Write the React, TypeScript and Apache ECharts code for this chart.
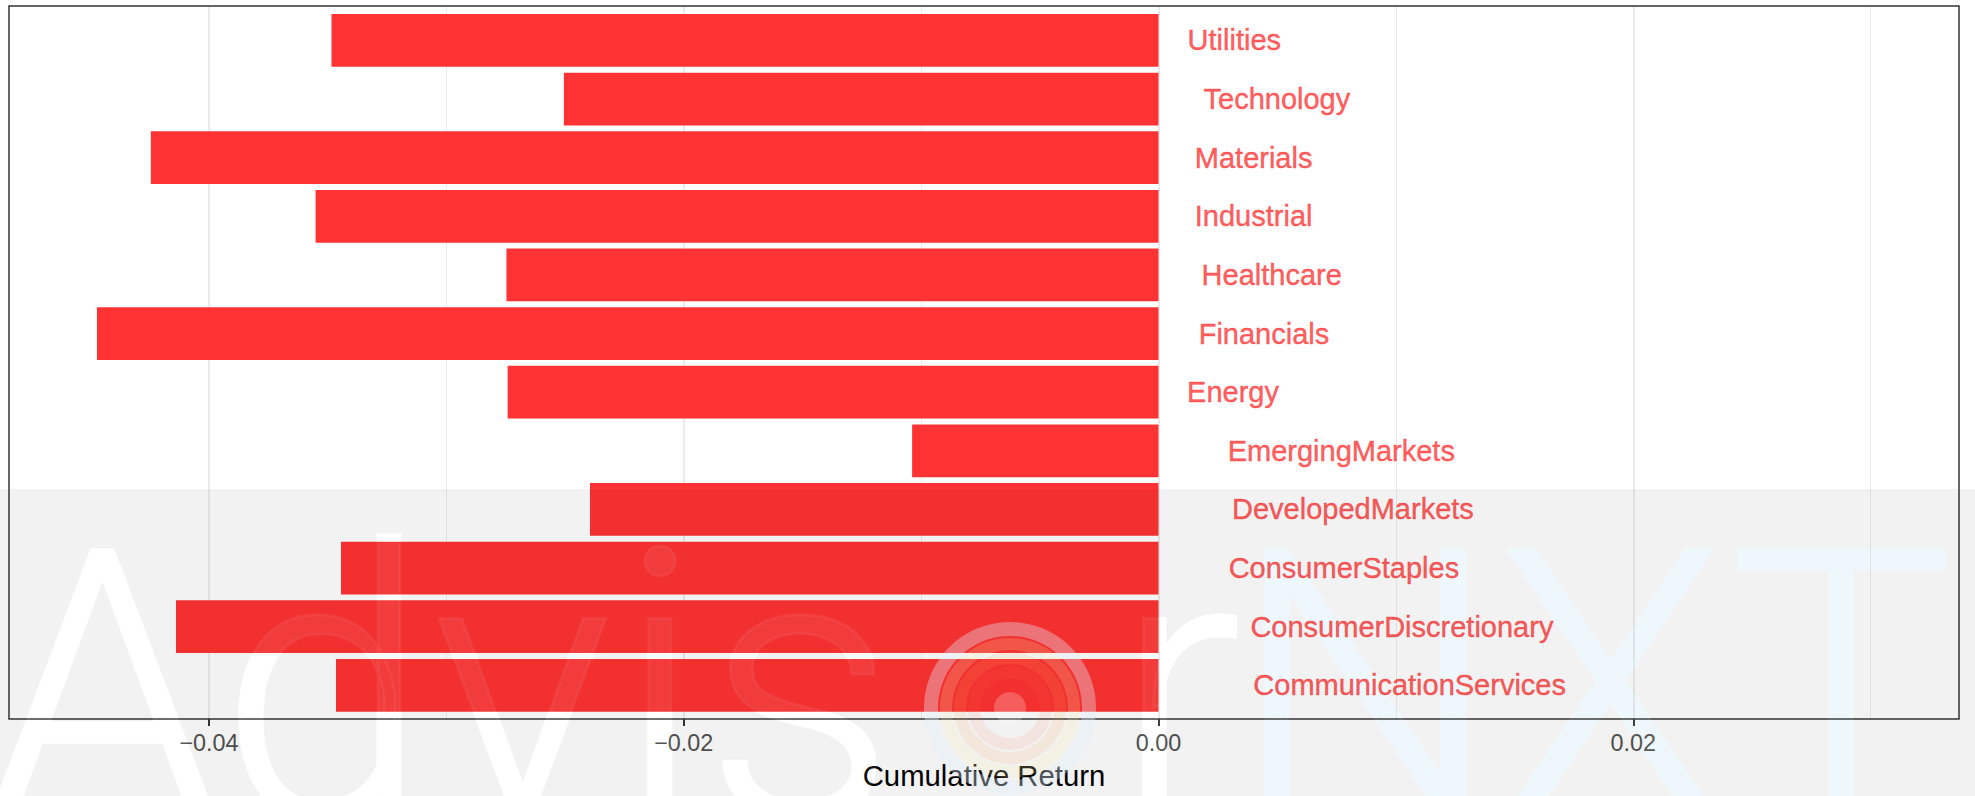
import React, { useEffect, useRef } from 'react';
import * as echarts from 'echarts';

// ---- data (ECharts draws the first category at the bottom)
const categories = [
  'CommunicationServices',
  'ConsumerDiscretionary',
  'ConsumerStaples',
  'DevelopedMarkets',
  'EmergingMarkets',
  'Energy',
  'Financials',
  'Healthcare',
  'Industrial',
  'Materials',
  'Technology',
  'Utilities',
];
const cumulativeReturn = [
  -0.03465, -0.04139, -0.03444, -0.02395, -0.01038, -0.02742,
  -0.04472, -0.02747, -0.03551, -0.04245, -0.02505, -0.03484,
];
const majorTicks = [-0.04, -0.02, 0, 0.02];
const minorTicks = [-0.03, -0.01, 0.01, 0.03];
const axisTitle = 'Cumulative Return';
const watermarkLetters = ['A', 'd', 'v', 'i', 's', 'r', 'N', 'X', 'T'];

// ---- layout / style
const W = 1975;
const H = 796;
const X_MIN = -0.048425;
const X_MAX = 0.033722;
const BAND_Y = 489;
const FONT = '"Liberation Sans", Arial, Helvetica, sans-serif';
const BRIGHT = '#FF3333';
const DARK = '#F23030';
const WM_SIZE = 376;
const WM_MID = 688.6;
const WM_X = [102.5, 324.5, 522.5, 659.7, 800.5, 1178, 1365, 1610.5, 1841];
const LOGO = { cx: 1010, cy: 708 };

const fmt = (v: number) => (v < 0 ? '\u2212' : '') + Math.abs(v).toFixed(2);

export default function App() {
  const ref = useRef<HTMLDivElement>(null);

  useEffect(() => {
    document.body.style.margin = '0';
    const chart = echarts.init(ref.current!, null, { renderer: 'svg' });

    const ctx = document.createElement('canvas').getContext('2d')!;
    ctx.font = '29px "Liberation Sans"';

    const barColor = new echarts.graphic.LinearGradient(
      0, 0, 0, H,
      [
        { offset: 0, color: BRIGHT },
        { offset: BAND_Y / H, color: BRIGHT },
        { offset: BAND_Y / H, color: DARK },
        { offset: 1, color: DARK },
      ],
      true
    );

    const labelData = categories.map((c, i) => {
      const w = ctx.measureText(c).width;
      const col = i < 4 ? DARK : BRIGHT;
      return {
        name: c,
        value: [0, c],
        label: { distance: 0.5 + 0.3 * w, color: col, textBorderColor: col },
      };
    });

    const letterFill = (l: string) => ('NXT'.includes(l) ? '#EEF8FC' : '#FFFFFF');
    const letters = (fillFn: (l: string) => string, z: number) =>
      watermarkLetters.map((l, i) => ({
        type: 'text',
        x: WM_X[i],
        y: WM_MID,
        z,
        z2: 1,
        silent: true,
        style: {
          text: l,
          fontFamily: 'Roboto',
          fontWeight: 300,
          fontSize: WM_SIZE,
          fill: fillFn(l),
          stroke: fillFn(l),
          lineWidth: 3,
          align: 'center',
          verticalAlign: 'middle',
        },
      }));

    const logo = [
      { type: 'ring', shape: { cx: LOGO.cx, cy: LOGO.cy, r: 86, r0: 72 }, style: { fill: 'rgba(225,242,252,0.35)' } },
      { type: 'ring', shape: { cx: LOGO.cx, cy: LOGO.cy, r: 70, r0: 58 }, style: { fill: 'rgba(245,242,170,0.2)' } },
      { type: 'ring', shape: { cx: LOGO.cx, cy: LOGO.cy, r: 56, r0: 44 }, style: { fill: 'rgba(255,170,90,0.14)' } },
      { type: 'ring', shape: { cx: LOGO.cx, cy: LOGO.cy, r: 42, r0: 30 }, style: { fill: 'rgba(255,110,60,0.1)' } },
      { type: 'circle', shape: { cx: LOGO.cx, cy: LOGO.cy, r: 16 }, style: { fill: 'rgba(255,255,255,0.22)' } },
    ].map((e) => ({ ...e, z: 4, silent: true }));

    const option: any = {
      animation: false,
      backgroundColor: '#FFFFFF',
      grid: [
        {
          left: 9, right: 16, top: 6, height: 713,
          show: true, borderColor: '#333333', borderWidth: 1.5,
          backgroundColor: 'transparent', z: 1,
        },
        { left: 9, right: 16, top: 11.1, height: 703.5, z: 1 },
      ],
      xAxis: [
        {
          type: 'value', gridIndex: 0, position: 'bottom', min: X_MIN, max: X_MAX, z: 1,
          axisLine: { show: false },
          axisTick: { show: true, customValues: majorTicks, length: 7, lineStyle: { color: '#333333', width: 2 } },
          axisLabel: {
            show: true, customValues: majorTicks, margin: 12,
            color: '#4D4D4D', fontSize: 23.4, fontFamily: FONT,
            formatter: (v: number) => fmt(v),
          },
          splitLine: { show: true, lineStyle: { color: 'rgba(0,0,0,0.078)', width: 2 } },
          name: axisTitle, nameLocation: 'middle', nameGap: 42,
          nameTextStyle: { color: '#000000', fontSize: 29.3, fontFamily: FONT },
        },
        {
          type: 'value', gridIndex: 0, position: 'top', min: X_MIN, max: X_MAX, z: 1,
          axisLine: { show: false },
          axisTick: { show: false, customValues: minorTicks },
          axisLabel: { show: false },
          splitLine: { show: true, lineStyle: { color: 'rgba(0,0,0,0.078)', width: 1 } },
        },
        { type: 'value', gridIndex: 1, min: X_MIN, max: X_MAX, show: false },
      ],
      yAxis: [
        { type: 'value', gridIndex: 0, min: 0, max: 1, show: false },
        { type: 'category', gridIndex: 1, data: categories, show: false },
      ],
      series: [
        {
          type: 'bar', xAxisIndex: 2, yAxisIndex: 1,
          data: cumulativeReturn, barWidth: '90%',
          itemStyle: { color: barColor }, z: 3, silent: true,
        },
        {
          type: 'scatter', xAxisIndex: 2, yAxisIndex: 1,
          data: labelData, symbolSize: 1,
          itemStyle: { color: 'rgba(0,0,0,0)' },
          label: {
            show: true, position: 'right', formatter: '{b}',
            fontSize: 29, fontFamily: FONT, textBorderWidth: 0.4,
          },
          z: 5, silent: true,
        },
      ],
      graphic: {
        elements: [
          { type: 'rect', shape: { x: 0, y: BAND_Y, width: W, height: H - BAND_Y }, style: { fill: '#F2F2F2' }, z: 0, z2: 0, silent: true },
          ...letters(letterFill, 0),
          ...letters(() => 'rgba(255,255,255,0.055)', 4),
          ...logo,
        ],
      },
    };

    chart.setOption(option);
    return () => chart.dispose();
  }, []);

  return <div ref={ref} style={{ width: W, height: H }} />;
}
